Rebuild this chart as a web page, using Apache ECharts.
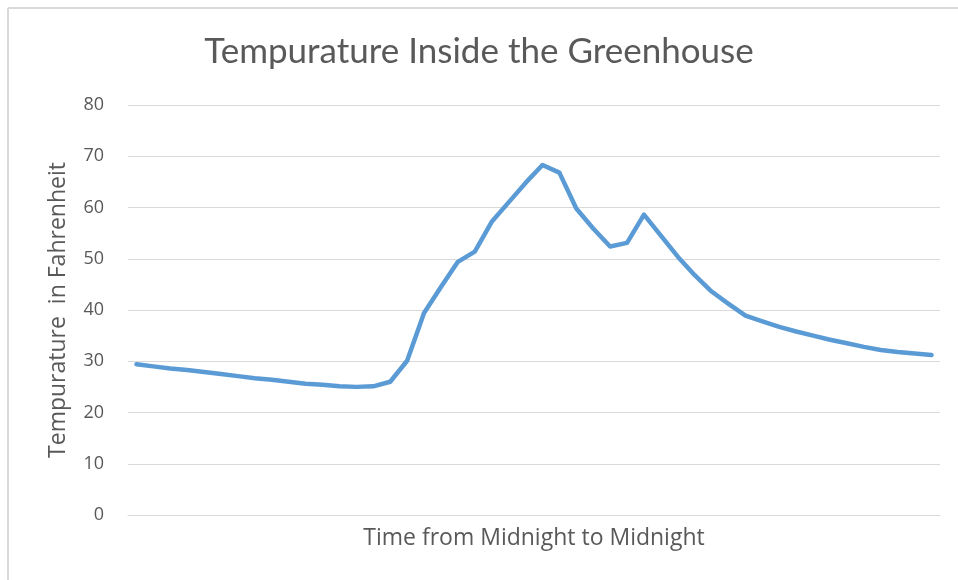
<!DOCTYPE html>
<html>
<head>
<meta charset="utf-8">
<script src="https://cdn.jsdelivr.net/npm/echarts@6/dist/echarts.min.js"></script>
<style>
  html, body { margin: 0; padding: 0; background: #fff; }
  #chart { width: 958px; height: 580px; }
</style>
</head>
<body>
<div id="chart"></div>
<script>
// half-hour readings, midnight to midnight
const times = [];
for (let i = 0; i < 48; i++) {
  times.push(String(Math.floor(i / 2)).padStart(2, '0') + ':' + (i % 2 ? '30' : '00'));
}
const temps = [
  29.4, 29.0, 28.6, 28.3, 27.9, 27.5, 27.1, 26.7, 26.4, 26.0,
  25.6, 25.4, 25.1, 25.0, 25.1, 26.0, 30.1, 39.4, 44.5, 49.4,
  51.4, 57.2, 61.0, 64.8, 68.3, 66.8, 59.8, 55.9, 52.4, 53.1,
  58.6, 54.5, 50.4, 46.8, 43.6, 41.2, 38.9, 37.8, 36.7, 35.8,
  35.0, 34.2, 33.5, 32.8, 32.2, 31.8, 31.5, 31.2
];
const yTicks = [0, 10, 20, 30, 40, 50, 60, 70, 80];

const chart = echarts.init(document.getElementById('chart'));
chart.setOption({
  animation: false,
  backgroundColor: '#fff',
  title: {
    text: 'Tempurature Inside the Greenhouse',
    left: 'center',
    top: 29,
    textStyle: { fontFamily: 'Lato', fontWeight: 'normal', fontSize: 35, color: '#595959' }
  },
  graphic: [
    { type: 'line', shape: { x1: 8, y1: 8, x2: 8, y2: 580 }, style: { stroke: '#d9d9d9', lineWidth: 2 } },
    { type: 'line', shape: { x1: 8, y1: 8, x2: 958, y2: 8 }, style: { stroke: '#d9d9d9', lineWidth: 2 } }
  ],
  grid: { left: 128, right: 18, top: 105, bottom: 65 },
  xAxis: {
    type: 'category',
    data: times,
    boundaryGap: true,
    name: 'Time from Midnight to Midnight',
    nameLocation: 'middle',
    nameGap: 12,
    nameTextStyle: { fontFamily: 'Open Sans', fontSize: 23, color: '#595959' },
    axisLine: { lineStyle: { color: '#d9d9d9', width: 1 } },
    axisTick: { show: false },
    axisLabel: { show: false }
  },
  yAxis: {
    type: 'value',
    min: yTicks[0],
    max: yTicks[yTicks.length - 1],
    interval: 10,
    name: 'Tempurature  in Fahrenheit',
    nameLocation: 'middle',
    nameGap: 58,
    nameTextStyle: { fontFamily: 'Open Sans', fontSize: 23, color: '#595959' },
    axisLine: { show: false },
    axisTick: { show: false },
    axisLabel: { fontFamily: 'Open Sans', fontSize: 18, color: '#595959', margin: 24 },
    splitLine: { lineStyle: { color: '#d9d9d9', width: 1 } }
  },
  series: [{
    type: 'line',
    data: temps,
    symbol: 'none',
    smooth: false,
    lineStyle: { color: '#5b9bd5', width: 4.5, join: 'round', cap: 'round' }
  }]
});
</script>
</body>
</html>
